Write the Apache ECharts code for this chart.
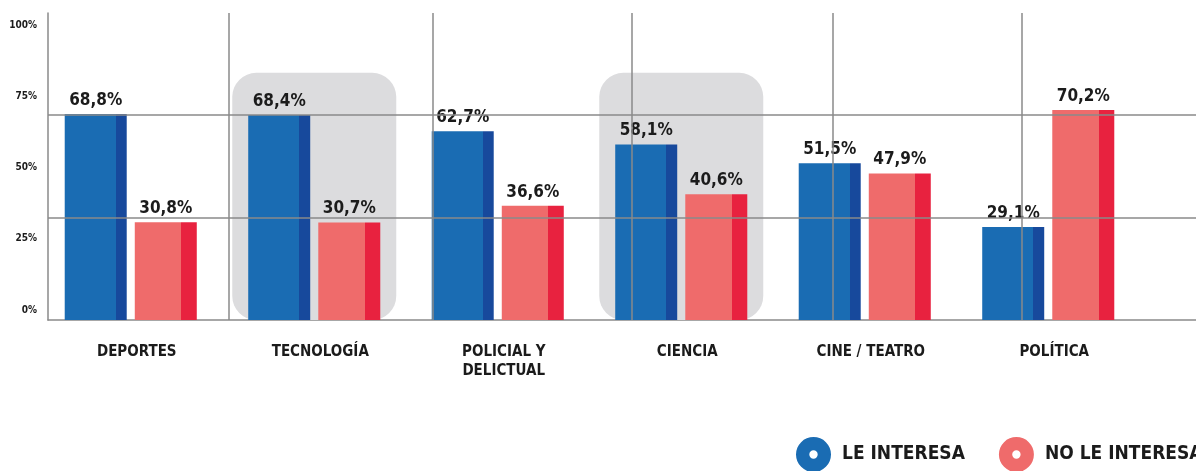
<!DOCTYPE html>
<html>
<head>
<meta charset="utf-8">
<title>Intereses</title>
<script src="https://cdn.jsdelivr.net/npm/echarts@6/dist/echarts.min.js"></script>
<style>
    html, body { margin: 0; padding: 0; background: #fff; }
    #chart { width: 1196px; height: 471px; }
</style>
</head>
<body>
<div id="chart"></div>
<script>
var categories = ['DEPORTES', 'TECNOLOGÍA', 'POLICIAL Y\nDELICTUAL', 'CIENCIA', 'CINE / TEATRO', 'POLÍTICA'];
var leInteresa = [68.8, 68.4, 62.7, 58.1, 51.5, 29.1];
var noLeInteresa = [30.8, 30.7, 36.6, 40.6, 47.9, 70.2];
var highlighted = ['TECNOLOGÍA', 'CIENCIA'];
var yTicks = [0, 25, 50, 75, 100];

var FONT = '"DejaVu Sans Condensed", "DejaVu Sans", sans-serif';
var BLUE = '#1a6cb3', BLUE_DARK = '#17499c';
var PINK = '#ef6b6b', PINK_DARK = '#e8223f';

function twoTone(main, dark, at) {
    return {
        type: 'linear', x: 0, y: 0, x2: 1, y2: 0,
        colorStops: [
            { offset: 0, color: main }, { offset: at, color: main },
            { offset: at, color: dark }, { offset: 1, color: dark }
        ]
    };
}

function pct(p) {
    return p.value.toFixed(1).replace('.', ',') + '%';
}

var barLabel = {
    show: true, position: 'top', distance: 5,
    fontFamily: FONT, fontWeight: 'bold', fontSize: 17, color: '#1b1b1b',
    formatter: pct
};

var ruleStyle = { color: '#8a8a8a', width: 1.5, type: 'solid' };

var myChart = echarts.init(document.getElementById('chart'));
var option = {
    animation: false,
    grid: [
        { left: 39, right: 56, top: 13, bottom: 151 },
        { left: 48, right: 0, top: 13, bottom: 151 }
    ],
    xAxis: [
        {
            type: 'category', gridIndex: 0, data: categories,
            axisLine: { show: false }, axisTick: { show: false },
            axisLabel: {
                margin: 23, fontFamily: FONT, fontWeight: 'bold', fontSize: 15,
                color: '#1b1b1b', lineHeight: 19, padding: [0, 0, 0, 12]
            }
        },
        {
            type: 'category', gridIndex: 0, data: categories, show: false
        },
        {
            type: 'value', gridIndex: 1, min: 0, max: 1148,
            axisLine: { show: true, onZero: false, lineStyle: ruleStyle },
            axisTick: { show: false }, axisLabel: { show: false }, splitLine: { show: false }
        }
    ],
    yAxis: [
        {
            type: 'value', gridIndex: 0, min: -3.5, max: 104.2, startValue: -3.5,
            show: false
        },
        {
            type: 'value', gridIndex: 1, min: -3.5, max: 104.2,
            axisLine: { show: true, lineStyle: ruleStyle },
            axisTick: { show: false }, splitLine: { show: false },
            axisLabel: {
                customValues: yTicks, margin: 11,
                fontFamily: FONT, fontWeight: 'bold', fontSize: 10, color: '#1b1b1b',
                formatter: '{value}%'
            }
        }
    ],
    legend: {
        data: [
            { name: 'LE INTERESA', itemStyle: { color: BLUE } },
            { name: 'NO LE INTERESA', itemStyle: { color: PINK } }
        ],
        left: 791, top: 432, width: 560,
        itemWidth: 35, itemHeight: 35, itemGap: 34,
        icon: 'path://M0,-10A10,10 0 1,1 0,10A10,10 0 1,1 0,-10Z M0,-2.4A2.4,2.4 0 1,0 0,2.4A2.4,2.4 0 1,0 0,-2.4Z',
        textStyle: {
            fontFamily: FONT, fontWeight: 'bold', fontSize: 19, color: '#1b1b1b',
            padding: [0, 0, 0, 6]
        }
    },
    series: [
        {
            name: 'resalte', type: 'bar', xAxisIndex: 1, yAxisIndex: 0,
            barWidth: 164, z: 1, silent: true,
            data: categories.map(function (c) {
                return highlighted.indexOf(c) >= 0 ? 83.2 : null;
            }),
            itemStyle: { color: '#dcdcde', borderRadius: 24 }
        },
        {
            name: 'lineas', type: 'line', xAxisIndex: 2, yAxisIndex: 1, z: 2,
            data: [], symbol: 'none', silent: true,
            markLine: {
                silent: true, symbol: 'none', label: { show: false },
                lineStyle: ruleStyle,
                data: [
                    { xAxis: 181 }, { xAxis: 384.5 }, { xAxis: 584 }, { xAxis: 785 }, { xAxis: 974 },
                    { yAxis: 68.4 }, { yAxis: 32.3 }
                ]
            }
        },
        {
            name: 'LE INTERESA', type: 'bar', xAxisIndex: 0, yAxisIndex: 0,
            barWidth: 62, barGap: '13%', z: 3,
            data: leInteresa,
            itemStyle: { color: twoTone(BLUE, BLUE_DARK, 0.82) },
            label: barLabel
        },
        {
            name: 'NO LE INTERESA', type: 'bar', xAxisIndex: 0, yAxisIndex: 0,
            barWidth: 62, z: 3,
            data: noLeInteresa,
            itemStyle: { color: twoTone(PINK, PINK_DARK, 0.75) },
            label: barLabel
        }
    ]
};
myChart.setOption(option);
</script>
</body>
</html>
